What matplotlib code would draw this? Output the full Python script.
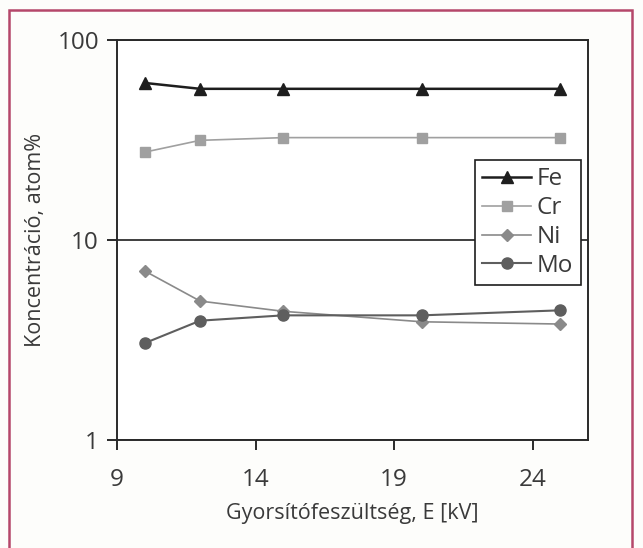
import matplotlib
matplotlib.use("Agg")
import matplotlib.pyplot as plt
from matplotlib.patches import Rectangle


voltage = [10, 12, 15, 20, 25]
fe = [61, 57, 57, 57, 57]
cr = [27.5, 31.5, 32.5, 32.5, 32.5]
ni = [7.0, 4.95, 4.4, 3.9, 3.8]
mo = [3.05, 3.95, 4.2, 4.2, 4.45]

x_ticks = [9, 14, 19, 24]
y_ticks = [1, 10, 100]
y_tick_labels = ["1", "10", "100"]

plt.rcParams["font.family"] = ["Open Sans", "DejaVu Sans"]
text_color = "#3a3a3a"

fig = plt.figure(figsize=(6.43, 5.48), dpi=100)
fig.patch.set_facecolor("#fdfdfb")

# Reddish frame around the figure
fig.patches.append(Rectangle((9 / 643, -0.05), 623 / 643, 1 - 10 / 548 + 0.05,
                             transform=fig.transFigure, fill=False,
                             edgecolor="#b5476a", linewidth=1.8))

ax = fig.add_axes([117 / 643, 1 - 440 / 548, 471 / 643, 400 / 548])
ax.set_facecolor("white")

ax.plot(voltage, fe, "-", marker="^", color="#1e1e1e", markersize=9, linewidth=1.8, label="Fe")
ax.plot(voltage, cr, "-", marker="s", color="#a0a0a0", markersize=7, linewidth=1.2, label="Cr")
ax.plot(voltage, ni, "-", marker="D", color="#8a8a8a", markersize=6, linewidth=1.2, label="Ni")
ax.plot(voltage, mo, "-", marker="o", color="#5e5e5e", markersize=8, linewidth=1.5, label="Mo")

ax.set_yscale("log")
ax.set_ylim(1, 100)
ax.set_xlim(9, 26)
ax.set_xticks(x_ticks)
ax.set_yticks(y_ticks)
ax.set_yticklabels(y_tick_labels)
ax.minorticks_off()
ax.yaxis.grid(True, color="#1e1e1e", linewidth=1.2)

for spine in ax.spines.values():
    spine.set_color("#2a2a2a")
    spine.set_linewidth(1.4)

ax.tick_params(axis="both", direction="out", length=7, width=1.4, color="#2a2a2a",
               labelsize=17.5, labelcolor=text_color, pad=6)
ax.tick_params(axis="x", pad=13)

ax.set_xlabel("Gyorsítófeszültség, E [kV]", fontsize=15.5, color=text_color, labelpad=8)
ax.set_ylabel("Koncentráció, atom%", fontsize=15.5, color=text_color, labelpad=8)

leg = ax.legend(loc="upper left", bbox_to_anchor=(0.76, 0.70), fontsize=17.5,
                frameon=True, fancybox=False, framealpha=1, edgecolor="#1e1e1e",
                handlelength=2.0, handletextpad=0.25, labelspacing=0.2,
                borderpad=0.3, borderaxespad=0)
leg.get_frame().set_linewidth(1.2)
for t in leg.get_texts():
    t.set_color(text_color)

plt.savefig("out.png", dpi=100, facecolor=fig.get_facecolor())
